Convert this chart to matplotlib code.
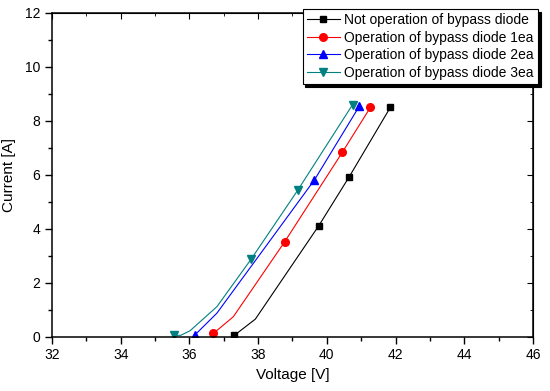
import matplotlib.pyplot as plt
from matplotlib.ticker import MultipleLocator

plt.rcParams['font.family'] = ['Liberation Sans', 'DejaVu Sans']

# Datos (voltaje [V], corriente [A])
v_none = [37.31, 37.92, 39.76, 40.64, 41.85]
i_none = [0.05, 0.65, 4.10, 5.90, 8.50]
mk_none = [0, 2, 3, 4]

v_1ea = [36.70, 37.28, 38.77, 40.45, 41.27]
i_1ea = [0.12, 0.74, 3.51, 6.83, 8.50]
mk_1ea = [0, 2, 3, 4]

v_2ea = [36.15, 36.80, 39.64, 40.95]
i_2ea = [0.05, 0.87, 5.81, 8.55]
mk_2ea = [0, 2, 3]

v_3ea = [35.54, 35.75, 36.02, 36.80, 37.79, 39.15, 40.75]
i_3ea = [0.05, 0.05, 0.22, 1.11, 2.86, 5.42, 8.60]
mk_3ea = [0, 4, 5, 6]

labels = [
    "Not operation of bypass diode",
    "Operation of bypass diode 1ea",
    "Operation of bypass diode 2ea",
    "Operation of bypass diode 3ea",
]

fig = plt.figure(figsize=(5.5, 3.91), dpi=100)
ax = fig.add_axes([0.0945, 0.139, 0.8745, 0.828])

ax.plot(v_none, i_none, color="black", lw=0.8, marker="s", ms=4.5,
        markevery=mk_none, label=labels[0])
ax.plot(v_1ea, i_1ea, color="#ff0000", lw=0.8, marker="o", ms=5.5,
        markevery=mk_1ea, label=labels[1])
ax.plot(v_2ea, i_2ea, color="#0000ff", lw=0.8, marker="^", ms=5.5,
        markevery=mk_2ea, label=labels[2])
ax.plot(v_3ea, i_3ea, color="#008080", lw=0.8, marker="v", ms=5.5,
        markevery=mk_3ea, label=labels[3])

ax.set_xlim(32, 46)
ax.set_ylim(0, 12)
ax.xaxis.set_major_locator(MultipleLocator(2))
ax.xaxis.set_minor_locator(MultipleLocator(1))
ax.yaxis.set_major_locator(MultipleLocator(2))
ax.yaxis.set_minor_locator(MultipleLocator(1))
ax.tick_params(which="both", direction="out", labelsize=10, width=1)
ax.tick_params(which="major", length=5)
ax.tick_params(which="minor", length=3)
for s in ax.spines.values():
    s.set_linewidth(1.1)

ax.set_xlabel("Voltage [V]", fontsize=11, labelpad=4)
ax.set_ylabel("Current [A]", fontsize=11, labelpad=6)

# Ejes secundarios con ticks hacia adentro
ax_r = ax.secondary_yaxis("right")
ax_r.yaxis.set_major_locator(MultipleLocator(2))
ax_r.yaxis.set_minor_locator(MultipleLocator(1))
ax_r.tick_params(which="both", direction="in", labelright=False)
ax_r.tick_params(which="major", length=4)
ax_r.tick_params(which="minor", length=2)
ax_t = ax.secondary_xaxis("top")
ax_t.xaxis.set_major_locator(MultipleLocator(2))
ax_t.xaxis.set_minor_locator(MultipleLocator(1))
ax_t.tick_params(which="both", direction="in", labeltop=False)
ax_t.tick_params(which="major", length=4)
ax_t.tick_params(which="minor", length=2)

leg = ax.legend(loc="upper right", bbox_to_anchor=(538 / 550, 1 - 9 / 391),
                bbox_transform=fig.transFigure, fontsize=10,
                frameon=True, fancybox=False, shadow={"color": "black", "alpha": 1},
                edgecolor="black", borderpad=0.3, labelspacing=0.25,
                handlelength=2.4, handletextpad=0.3, borderaxespad=0)
leg.get_frame().set_linewidth(0.8)

fig.savefig("out.png", dpi=100)
